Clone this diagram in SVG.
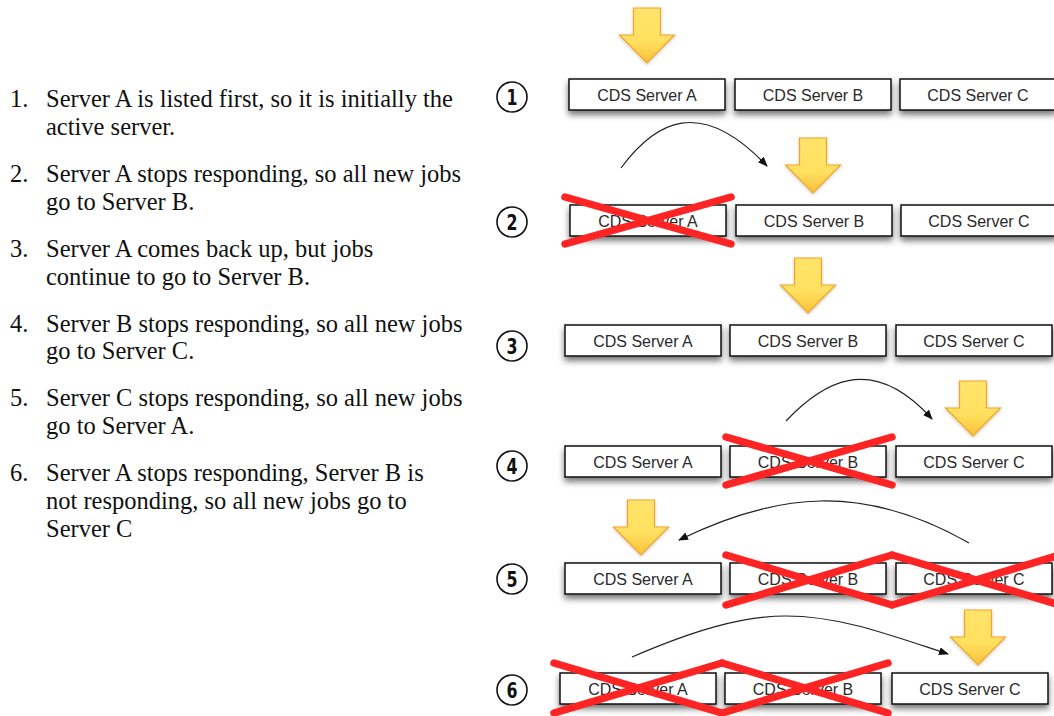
<svg xmlns="http://www.w3.org/2000/svg" width="1054" height="716" viewBox="0 0 1054 716">
<style>
.desc{font-family:"Liberation Serif","Times New Roman",serif;font-size:24.5px;fill:#111}
.box rect{fill:#fff;stroke:#111;stroke-width:1.5;filter:url(#sh)}
.box text{font-family:"Liberation Sans",Arial,sans-serif;font-size:16px;fill:#2a2a2a;text-anchor:middle}
.num circle{fill:none;stroke:#111;stroke-width:1.6}
.num text{font-family:"DejaVu Sans Condensed","DejaVu Sans",sans-serif;font-weight:bold;font-size:22px;fill:#111;text-anchor:middle}
.arrow{fill:url(#yg);stroke:#f2a52a;stroke-width:1.2;filter:url(#ash)}
.conn path{fill:none;stroke:#222;stroke-width:1.2;marker-end:url(#ah)}
.x line{stroke:#ff2424;stroke-width:7.5;stroke-linecap:round}
</style>
<defs>
<filter id="sh" x="-10%" y="-30%" width="120%" height="180%">
<feDropShadow dx="0" dy="4" stdDeviation="3" flood-color="#000" flood-opacity="0.55"/>
</filter>
<filter id="ash" x="-20%" y="-20%" width="140%" height="140%">
<feDropShadow dx="0" dy="1" stdDeviation="1.5" flood-color="#000" flood-opacity="0.25"/>
</filter>
<linearGradient id="yg" x1="0" y1="0" x2="0" y2="1">
<stop offset="0" stop-color="#ffe36a"/>
<stop offset="0.6" stop-color="#ffe060"/>
<stop offset="1" stop-color="#f9c13a"/>
</linearGradient>
<marker id="ah" viewBox="0 0 10 8" refX="9" refY="4" markerWidth="10" markerHeight="8" markerUnits="userSpaceOnUse" orient="auto">
<path d="M0 0 L10 4 L0 8 Z" fill="#111"/>
</marker>
<path id="ya" d="M-13.5 0 H13.5 V27 H27.5 L0 55 L-27.5 27 H-13.5 Z"/>
</defs>

<g id="description">
<text class="desc" x="10" y="107">1.</text>
<text class="desc" x="46" y="107">Server A is listed first, so it is initially the</text>
<text class="desc" x="46" y="135">active server.</text>
<text class="desc" x="10" y="182">2.</text>
<text class="desc" x="46" y="182">Server A stops responding, so all new jobs</text>
<text class="desc" x="46" y="210">go to Server B.</text>
<text class="desc" x="10" y="257">3.</text>
<text class="desc" x="46" y="257">Server A comes back up, but jobs</text>
<text class="desc" x="46" y="285">continue to go to Server B.</text>
<text class="desc" x="10" y="332">4.</text>
<text class="desc" x="46" y="332">Server B stops responding, so all new jobs</text>
<text class="desc" x="46" y="359">go to Server C.</text>
<text class="desc" x="10" y="406">5.</text>
<text class="desc" x="46" y="406">Server C stops responding, so all new jobs</text>
<text class="desc" x="46" y="434">go to Server A.</text>
<text class="desc" x="10" y="481">6.</text>
<text class="desc" x="46" y="481">Server A stops responding, Server B is</text>
<text class="desc" x="46" y="509">not responding, so all new jobs go to</text>
<text class="desc" x="46" y="537">Server C</text>
</g>

<g id="step-numbers">
<g class="num" id="n1"><circle cx="512" cy="97" r="15"/><text transform="translate(512 105) scale(0.8 1)">1</text></g>
<g class="num" id="n2"><circle cx="512" cy="222" r="15"/><text transform="translate(512 230) scale(0.8 1)">2</text></g>
<g class="num" id="n3"><circle cx="512" cy="346" r="15"/><text transform="translate(512 354) scale(0.8 1)">3</text></g>
<g class="num" id="n4"><circle cx="512" cy="466" r="15"/><text transform="translate(512 474) scale(0.8 1)">4</text></g>
<g class="num" id="n5"><circle cx="512" cy="579" r="15"/><text transform="translate(512 587) scale(0.8 1)">5</text></g>
<g class="num" id="n6"><circle cx="512" cy="690" r="15"/><text transform="translate(512 698) scale(0.8 1)">6</text></g>
</g>

<g id="row1">
<g class="box" id="r1a"><rect x="569" y="79" width="156" height="31"/><text x="647" y="100.5">CDS Server A</text></g>
<g class="box" id="r1b"><rect x="735" y="79" width="156" height="31"/><text x="813" y="100.5">CDS Server B</text></g>
<g class="box" id="r1c"><rect x="900" y="79" width="156" height="31"/><text x="978" y="100.5">CDS Server C</text></g>
</g>
<g id="row2">
<g class="box" id="r2a"><rect x="570" y="205" width="156" height="31"/><text x="648" y="226.5">CDS Server A</text></g>
<g class="box" id="r2b"><rect x="736" y="205" width="156" height="31"/><text x="814" y="226.5">CDS Server B</text></g>
<g class="box" id="r2c"><rect x="901" y="205" width="156" height="31"/><text x="979" y="226.5">CDS Server C</text></g>
</g>
<g id="row3">
<g class="box" id="r3a"><rect x="565" y="325" width="156" height="31"/><text x="643" y="346.5">CDS Server A</text></g>
<g class="box" id="r3b"><rect x="730" y="325" width="156" height="31"/><text x="808" y="346.5">CDS Server B</text></g>
<g class="box" id="r3c"><rect x="896" y="325" width="156" height="31"/><text x="974" y="346.5">CDS Server C</text></g>
</g>
<g id="row4">
<g class="box" id="r4a"><rect x="565" y="446" width="156" height="31"/><text x="643" y="467.5">CDS Server A</text></g>
<g class="box" id="r4b"><rect x="730" y="446" width="156" height="31"/><text x="808" y="467.5">CDS Server B</text></g>
<g class="box" id="r4c"><rect x="896" y="446" width="156" height="31"/><text x="974" y="467.5">CDS Server C</text></g>
</g>
<g id="row5">
<g class="box" id="r5a"><rect x="565" y="563" width="156" height="31"/><text x="643" y="584.5">CDS Server A</text></g>
<g class="box" id="r5b"><rect x="730" y="563" width="156" height="31"/><text x="808" y="584.5">CDS Server B</text></g>
<g class="box" id="r5c"><rect x="896" y="563" width="156" height="31"/><text x="974" y="584.5">CDS Server C</text></g>
</g>
<g id="row6">
<g class="box" id="r6a"><rect x="560" y="673" width="156" height="31"/><text x="638" y="694.5">CDS Server A</text></g>
<g class="box" id="r6b"><rect x="725" y="673" width="156" height="31"/><text x="803" y="694.5">CDS Server B</text></g>
<g class="box" id="r6c"><rect x="892" y="673" width="156" height="31"/><text x="970" y="694.5">CDS Server C</text></g>
</g>

<g id="active-arrows">
<use href="#ya" class="arrow" x="647" y="8"/>
<use href="#ya" class="arrow" x="813" y="138"/>
<use href="#ya" class="arrow" x="808" y="258"/>
<use href="#ya" class="arrow" x="973" y="381"/>
<use href="#ya" class="arrow" x="641" y="500"/>
<use href="#ya" class="arrow" x="978" y="610"/>
</g>

<g id="connectors" class="conn">
<path d="M621 168 C655 122 700 95 767 166"/>
<path d="M786 421 C820 385 870 350 932 419"/>
<path d="M969 543 C920 515 870 500 820 501 C770 502 720 520 679 540"/>
<path d="M632 657 C690 632 740 616 786 616 C840 616 890 635 948 654"/>
</g>

<g id="failures" class="x">
<line x1="565" y1="197" x2="731" y2="244"/><line x1="731" y1="197" x2="565" y2="244"/>
<line x1="726" y1="437" x2="892" y2="485"/><line x1="892" y1="437" x2="726" y2="485"/>
<line x1="726" y1="555" x2="892" y2="605"/><line x1="892" y1="555" x2="726" y2="605"/>
<line x1="892" y1="555" x2="1060" y2="605"/><line x1="1060" y1="555" x2="892" y2="605"/>
<line x1="554" y1="663" x2="722" y2="713"/><line x1="722" y1="663" x2="554" y2="713"/>
<line x1="722" y1="663" x2="888" y2="713"/><line x1="888" y1="663" x2="722" y2="713"/>
</g>
</svg>
